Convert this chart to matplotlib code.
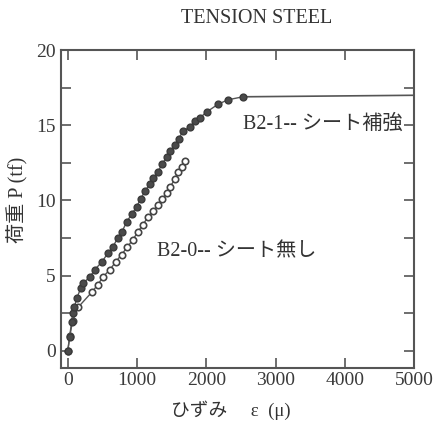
import matplotlib.pyplot as plt
import numpy as np

# B2-1 (sheet reinforced), filled markers
b21_strain = [0, 25, 55, 70, 95, 130, 190, 220, 318, 390, 490, 580, 650, 720, 780,
              853, 925, 997, 1050, 1113, 1185, 1235, 1301, 1358, 1431, 1480, 1546,
              1600, 1662, 1763, 1835, 1907, 2008, 2168, 2312, 2529]
b21_load = [0, 0.9, 1.9, 2.5, 2.9, 3.5, 4.2, 4.5, 4.9, 5.4, 5.9, 6.5, 6.9, 7.5, 7.9,
            8.6, 9.1, 9.6, 10.1, 10.6, 11.1, 11.5, 11.9, 12.4, 12.9, 13.3, 13.7,
            14.1, 14.6, 14.9, 15.3, 15.5, 15.9, 16.4, 16.7, 16.9]
# yield plateau drawn as a line only
b21_tail_strain = [2529, 5000]
b21_tail_load = [16.9, 17.0]

# B2-0 (no sheet), open markers
b20_strain = [0, 30, 70, 150, 347, 434, 506, 607, 690, 776, 860, 939, 1012, 1084,
              1160, 1228, 1301, 1358, 1431, 1474, 1546, 1590, 1647, 1690]
b20_load = [0, 1.0, 2.0, 2.9, 3.9, 4.4, 4.9, 5.4, 5.9, 6.4, 6.9, 7.4, 7.9, 8.4,
            8.9, 9.3, 9.7, 10.1, 10.5, 10.9, 11.4, 11.9, 12.2, 12.6]

serif_jp = ['Liberation Serif', 'Noto Sans CJK JP']
plt.rcParams['font.family'] = serif_jp

fig = plt.figure(figsize=(4.41, 4.29), dpi=100)
ax = fig.add_axes([0.138, 0.142, 0.801, 0.741])

col = '#555555'
ax.plot(b20_strain, b20_load, '-o', color=col, lw=1.0, ms=4.6,
        markerfacecolor='white', markeredgecolor='#444444', markeredgewidth=1.2)
ax.plot(b21_tail_strain, b21_tail_load, '-', color=col, lw=1.2)
ax.plot(b21_strain, b21_load, '-o', color=col, lw=1.0, ms=4.9,
        markerfacecolor='#4a4a4a', markeredgecolor='#3a3a3a')

ax.set_xlim(-100, 5000)
ax.set_ylim(-1.15, 20)
ax.set_xticks(np.arange(0, 5001, 1000))
ax.set_yticks([0, 5, 10, 15, 20])
ax.set_yticks(np.arange(0, 20.1, 2.5), minor=True)
ax.tick_params(which='both', direction='in', top=True, right=True,
               color='#555555', width=1.2, length=7, labelsize=14,
               labelcolor='#3a3a3a')
ax.tick_params(axis='x', pad=3)
for s in ax.spines.values():
    s.set_color('#555555')
    s.set_linewidth(1.5)

ax.text(2530, 15.1, 'B2-1-- シート補強', fontsize=14.5, color='#333333',
        va='center', ha='left', family=serif_jp)
ax.text(1286, 6.6, 'B2-0-- シート無し', fontsize=14.5, color='#333333',
        va='center', ha='left', family=serif_jp)

fig.text(0.583, 0.958, 'TENSION STEEL', fontsize=14.5, color='#333333',
         ha='center', va='center')
fig.text(0.041, 0.534, '荷重 P (tf)', fontsize=14.5, color='#333333',
         rotation=90, ha='center', va='center')
fig.text(0.524, 0.044, 'ひずみ　 ε  (μ)', fontsize=13.5, color='#333333',
         ha='center', va='center')

fig.savefig('out.png', dpi=100)
